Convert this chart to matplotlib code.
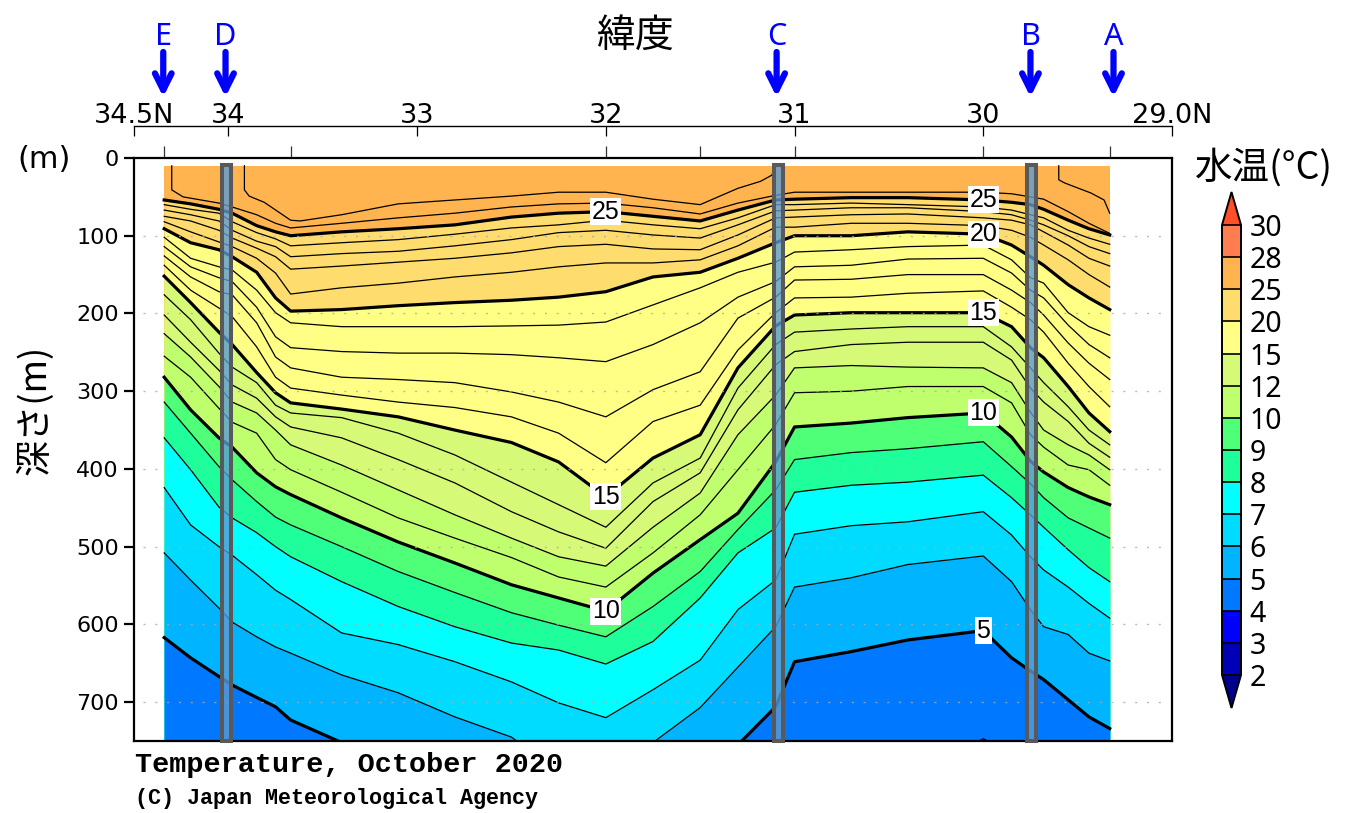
import numpy as np
import matplotlib
matplotlib.use("Agg")
from matplotlib import pyplot as plt
from matplotlib.cm import ScalarMappable
from matplotlib.colors import BoundaryNorm, ListedColormap
from matplotlib.patches import Rectangle

# latitude of the columns the isotherm depths were read at
lats = [34.34, 34.20, 34.05, 33.98, 33.85, 33.75, 33.67, 33.40, 33.10, 32.80, 32.50, 32.25, 32.00, 31.75,
        31.50, 31.30, 31.10, 31.00, 30.70, 30.40, 30.00, 29.85, 29.75, 29.68, 29.55, 29.44, 29.33]

# depth (m) of each isotherm, one value per latitude (over 750 = below the plot)
iso5 = [617, 643, 667, 678, 694, 706, 723, 752, 800, 800, 800, 800, 800, 800,
        800, 755, 706, 648, 635, 620, 608, 643, 660, 671, 697, 719, 734]
iso6 = [508, 543, 579, 597, 616, 629, 637, 665, 688, 719, 745, 790, 790, 752,
        707, 655, 603, 552, 540, 523, 512, 545, 581, 603, 613, 637, 647]
iso7 = [424, 472, 500, 511, 536, 556, 568, 611, 626, 648, 674, 701, 720, 684,
        646, 581, 543, 484, 473, 468, 455, 485, 513, 530, 552, 573, 592]
iso8 = [360, 401, 449, 463, 482, 500, 513, 545, 577, 603, 624, 633, 651, 622,
        566, 508, 476, 430, 421, 417, 408, 437, 459, 475, 504, 527, 545]
iso9 = [314, 354, 397, 414, 442, 462, 472, 500, 532, 559, 585, 601, 616, 577,
        532, 478, 427, 388, 379, 374, 365, 397, 419, 437, 463, 476, 489]
iso10 = [282, 324, 360, 372, 405, 423, 433, 463, 494, 521, 549, 566, 583, 534,
         491, 457, 391, 346, 341, 334, 328, 359, 390, 404, 424, 436, 446]
iso11 = [255, 282, 322, 340, 354, 388, 401, 430, 463, 489, 514, 539, 552, 508,
         459, 401, 343, 302, 300, 294, 294, 315, 356, 372, 395, 401, 421]
iso12 = [226, 256, 294, 314, 328, 350, 369, 395, 427, 459, 489, 513, 525, 475,
         431, 356, 305, 270, 267, 269, 270, 289, 327, 350, 369, 382, 401]
iso13 = [202, 237, 273, 292, 309, 333, 346, 360, 388, 418, 455, 481, 502, 442,
         405, 324, 266, 249, 240, 237, 237, 260, 296, 314, 339, 367, 385]
iso14 = [176, 208, 251, 269, 289, 318, 328, 334, 354, 382, 417, 446, 475, 418,
         386, 296, 240, 224, 220, 217, 217, 243, 270, 289, 320, 350, 369]
iso15 = [152, 186, 224, 240, 276, 302, 315, 323, 333, 350, 366, 391, 436, 386,
         356, 270, 216, 202, 199, 199, 199, 217, 244, 257, 294, 328, 352]
iso16 = [138, 170, 193, 204, 243, 282, 296, 305, 314, 321, 333, 354, 392, 339,
         318, 247, 199, 180, 179, 174, 171, 192, 208, 224, 264, 294, 320]
iso17 = [126, 153, 172, 176, 212, 256, 270, 282, 285, 289, 301, 314, 333, 298,
         275, 206, 179, 157, 156, 150, 150, 170, 186, 202, 238, 264, 285]
iso18 = [114, 140, 154, 159, 192, 230, 244, 249, 251, 251, 253, 257, 262, 240,
         212, 179, 159, 140, 138, 130, 129, 148, 170, 180, 215, 240, 257]
iso19 = [102, 129, 140, 144, 170, 199, 212, 217, 217, 217, 216, 215, 211, 189,
         167, 147, 134, 121, 118, 114, 112, 131, 154, 161, 199, 217, 228]
iso20 = [91, 109, 118, 127, 147, 180, 197, 195, 190, 186, 183, 179, 172, 153,
         147, 129, 109, 100, 100, 95, 98, 112, 127, 138, 163, 180, 195]
iso21 = [82, 95, 108, 114, 129, 148, 175, 167, 161, 153, 147, 140, 135, 135,
         131, 113, 89, 89, 84, 84, 87, 93, 102, 112, 131, 150, 166]
iso22 = [75, 81, 93, 103, 116, 127, 143, 139, 134, 129, 122, 114, 111, 117,
         118, 99, 77, 76, 73, 72, 77, 80, 86, 95, 112, 129, 139]
iso23 = [67, 73, 81, 93, 107, 114, 127, 123, 120, 113, 105, 96, 93, 99,
         103, 86, 68, 67, 64, 64, 69, 73, 80, 86, 100, 114, 123]
iso24 = [60, 66, 71, 82, 96, 104, 113, 109, 105, 98, 90, 86, 80, 86,
         91, 77, 60, 60, 58, 60, 63, 67, 73, 77, 93, 103, 111]
iso25 = [54, 59, 66, 71, 87, 95, 100, 95, 91, 86, 76, 71, 69, 75,
         81, 67, 54, 53, 51, 51, 54, 57, 60, 66, 80, 91, 99]

# warm surface isotherms do not span the section, so they have their own latitudes
lat26 = [34.30, 34.30, 34.24, 34.05, 33.98, 33.85, 33.75, 33.67, 33.40, 33.10, 32.80, 32.50, 32.25, 32.00,
         31.75, 31.50, 31.30, 31.10, 31.00, 30.70, 30.40, 30.00, 29.85, 29.75, 29.68, 29.55, 29.44, 29.33]
iso26 = [10, 41, 50, 58, 63, 73, 84, 90, 84, 77, 71, 63, 59, 58,
         64, 72, 58, 48, 44, 44, 44, 44, 46, 50, 53, 69, 84, 97]
lat27a = [33.915, 33.915, 33.89, 33.81, 33.67, 33.62, 33.40, 33.10, 32.80, 32.50, 32.25, 32.00,
          31.75, 31.50, 31.30, 31.18, 31.12, 31.10]
iso27a = [10, 41, 49, 57, 80, 81, 73, 59, 54, 49, 44, 44, 53, 60, 39, 30, 22, 10]
lat27b = [29.60, 29.60, 29.57, 29.43, 29.36, 29.33]
iso27b = [10, 28, 32, 45, 54, 71]
lat4 = [30.03, 30.00, 29.97]
iso4 = [751, 747, 751]

isotherms = {5: iso5, 6: iso6, 7: iso7, 8: iso8, 9: iso9, 10: iso10, 11: iso11, 12: iso12, 13: iso13,
             14: iso14, 15: iso15, 16: iso16, 17: iso17, 18: iso18, 19: iso19, 20: iso20, 21: iso21,
             22: iso22, 23: iso23, 24: iso24, 25: iso25}

levels = [2, 3, 4, 5, 6, 7, 8, 9, 10, 12, 15, 20, 25, 28, 30]
colors = ['#00008c', '#0000b4', '#0000ff', '#0078ff', '#00b4ff', '#00dcff', '#00ffff', '#1eff9b', '#50ff78',
          '#bfff6e', '#d7f978', '#ffff85', '#ffdc6e', '#ffb450', '#ff7d50', '#ff5028']

lat_ticks = [34.5, 34, 33, 32, 31, 30, 29]
lat_labels = ['34.5N', '34', '33', '32', '31', '30', '29.0N']
station_ticks = [34.34, 33.67, 32, 31.5, 31, 30, 29.33]
depth_ticks = [0, 100, 200, 300, 400, 500, 600, 700]
contour_labels = [(32.0, 25), (32.0, 15), (32.0, 10), (30.0, 25), (30.0, 20), (30.0, 15), (30.0, 10), (30.0, 5)]
sections = {'E': 34.345, 'D': 34.015, 'C': 31.095, 'B': 29.75, 'A': 29.31}
bar_lats = [34.012, 31.085, 29.745]

JP = ['Noto Sans CJK JP', 'DejaVu Sans']
W, H = 1359, 813

fig = plt.figure(figsize=(W / 100, H / 100), dpi=100)
ax = fig.add_axes([134 / W, (H - 741) / H, 1038 / W, 583 / H])
ax.set_xlim(34.5, 29)
ax.set_ylim(750, 0)

# paint from the warm side downwards so no seams show between bands
ax.fill_between(lats, 10, 900, color=colors[13], lw=0, zorder=1)
for temp in [25, 20, 15, 12, 10, 9, 8, 7, 6, 5]:
    ax.fill_between(lats, isotherms[temp], 900, color=colors[levels.index(temp)], lw=0, zorder=1)
ax.fill_between(lat4, iso4, 900, color=colors[2], lw=0, zorder=1)

for temp, depth in isotherms.items():
    thick = temp % 5 == 0
    ax.plot(lats, depth, color='k', lw=2.3 if thick else 0.9, zorder=2)
ax.plot(lat26, iso26, color='k', lw=0.9, zorder=2)
ax.plot(lat27a, iso27a, color='k', lw=0.9, zorder=2)
ax.plot(lat27b, iso27b, color='k', lw=0.9, zorder=2)
ax.plot(lat4, iso4, color='k', lw=0.9, zorder=2)

ax.hlines(depth_ticks[1:], 34.45, 29.04, color='#aaaaaa', lw=1, ls=(0, (1.5, 7)), alpha=0.8, zorder=3)

for lat, temp in contour_labels:
    ax.text(lat, isotherms[temp][lats.index(lat)], str(temp), family='Liberation Sans', fontsize=18,
            ha='center', va='center', zorder=4, bbox=dict(fc='white', ec='none', pad=1))

for lat in bar_lats:
    ax.add_patch(Rectangle((lat + 0.024, 9), -0.048, 741, fc=(0.357, 0.608, 0.835, 0.8), ec='#595959',
                           lw=2.9, zorder=5, clip_on=False))

for side in ax.spines.values():
    side.set_linewidth(1.6)
ax.set_yticks(depth_ticks)
ax.tick_params(axis='y', labelsize=16, length=7, width=1.6, pad=4)
ax.xaxis.tick_top()
ax.set_xticks(station_ticks)
ax.set_xticklabels([])
ax.tick_params(axis='x', length=8.5, width=0.9, color='#333333')

# latitude scale above the frame
top = ax.secondary_xaxis(1 + 32 / 583)
top.set_xticks(lat_ticks)
top.set_xticklabels(lat_labels)
top.tick_params(axis='x', direction='in', length=7, width=0.9, labelsize=19.5, pad=-2)
top.spines['top'].set_linewidth(1)

fig.text(635 / W, 1 - 36 / H, '緯度', family=JP, fontsize=28, ha='center', va='center')
fig.text(35 / W, 1 - 410 / H, '深さ(m)', family=JP, fontsize=26, rotation=90, ha='center', va='center')
fig.text(1264 / W, 1 - 168 / H, '水温(°C)', family=JP, fontsize=27, ha='center', va='center')
fig.text(44 / W, 1 - 160 / H, '(m)', fontsize=22, ha='center', va='center')

for name, lat in sections.items():
    ax.annotate('', xy=(lat, H - 97), xytext=(lat, H - 52), xycoords=('data', 'figure pixels'),
                textcoords=('data', 'figure pixels'), annotation_clip=False,
                arrowprops=dict(arrowstyle='->', color='#0000ff', lw=4.5, mutation_scale=30,
                                shrinkA=0, shrinkB=0))
    ax.annotate(name, xy=(lat, H - 37), xycoords=('data', 'figure pixels'), color='#0000ff', fontsize=22,
                family='Noto Sans', ha='center', va='center', annotation_clip=False)

fig.text(135 / W, 1 - 765 / H, 'Temperature, October 2020', family='Liberation Mono', weight='bold',
         fontsize=20.5, ha='left', va='center')
fig.text(135 / W, 1 - 798 / H, '(C) Japan Meteorological Agency', family='Liberation Mono', weight='bold',
         fontsize=15.7, ha='left', va='center')

# colour scale, the axes takes in the two end triangles
cax = fig.add_axes([1222 / W, (H - 708) / H, 19 / W, 516 / H])
cmap = ListedColormap(colors[1:-1]).with_extremes(under=colors[0], over=colors[-1])
norm = BoundaryNorm(levels, len(levels) - 1)
cb = fig.colorbar(ScalarMappable(norm=norm, cmap=cmap), cax=cax, extend='both', extendfrac=33 / 450,
                  spacing='uniform', drawedges=True, ticks=levels)
cb.ax.set_yticklabels([str(v) for v in levels], family='Noto Sans', fontsize=20.5)
cb.ax.tick_params(length=0, pad=6)
cb.outline.set_linewidth(1.4)
cb.dividers.set_linewidth(1.2)

fig.savefig('out.png', dpi=100)
